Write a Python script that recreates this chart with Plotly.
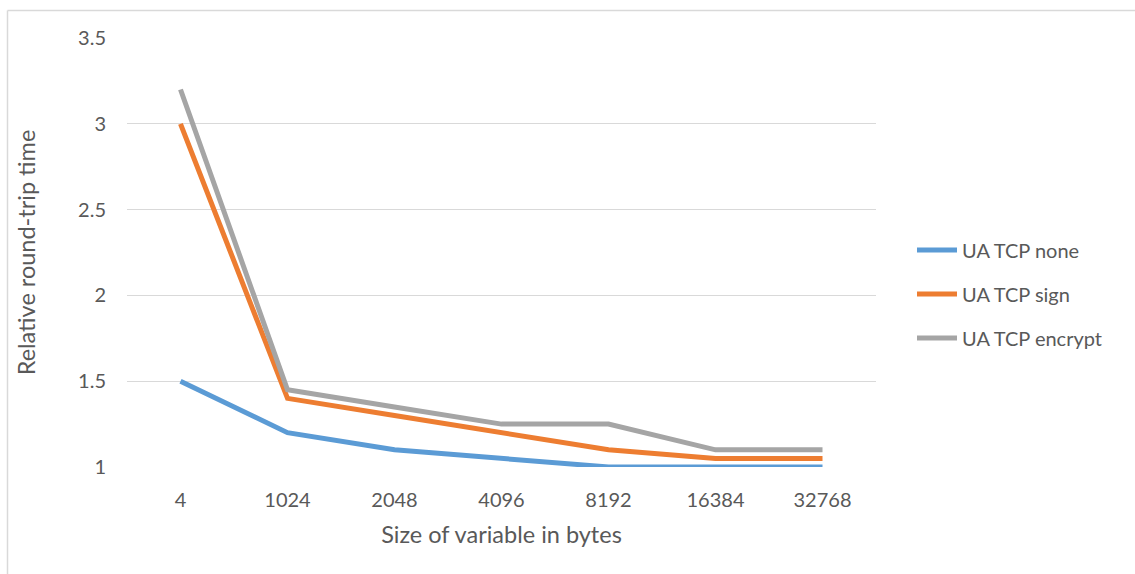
import plotly.graph_objects as go

# Round-trip time relative to the baseline, per variable size
sizes = ["4", "1024", "2048", "4096", "8192", "16384", "32768"]
ua_tcp_none = [1.5, 1.2, 1.1, 1.05, 1.0, 1.0, 1.0]
ua_tcp_sign = [3.0, 1.4, 1.3, 1.2, 1.1, 1.05, 1.05]
ua_tcp_encrypt = [3.2, 1.45, 1.35, 1.25, 1.25, 1.1, 1.1]

series = [
    ("UA TCP none", ua_tcp_none, "#5B9BD5"),
    ("UA TCP sign", ua_tcp_sign, "#ED7D31"),
    ("UA TCP encrypt", ua_tcp_encrypt, "#A5A5A5"),
]

W, H = 1135, 574
L, R, T, B = 127, 259, 38, 107
PW, PH = W - L - R, H - T - B

FONT = "Lato, 'Open Sans', sans-serif"
TXT = "#595959"

fig = go.Figure()
for name, vals, color in series:
    fig.add_trace(go.Scatter(
        x=sizes, y=vals, name=name, mode="lines", legendgroup=name,
        line=dict(color=color, width=5, shape="linear"),
    ))

def px_x(p):
    return (p - L) / PW

def px_y(p):
    return (H - B - p) / PH

# Thin frame around the chart area (top and left edges visible)
frame = dict(color="#D9D9D9", width=1.5)
fig.add_shape(type="line", xref="paper", yref="paper",
              x0=px_x(7.5), x1=px_x(W + 5), y0=px_y(10.5), y1=px_y(10.5), line=frame)
fig.add_shape(type="line", xref="paper", yref="paper",
              x0=px_x(7.5), x1=px_x(7.5), y0=px_y(10.5), y1=px_y(H + 5), line=frame)

fig.update_layout(
    width=W, height=H,
    margin=dict(l=L, r=R, t=T, b=B),
    paper_bgcolor="white", plot_bgcolor="white",
    font=dict(family=FONT, color=TXT, size=20),
    showlegend=True,
    legend=dict(
        x=px_x(912), xanchor="left", y=px_y(294), yanchor="middle",
        font=dict(size=20, color=TXT), tracegroupgap=15,
        itemwidth=40, bgcolor="rgba(0,0,0,0)",
    ),
    xaxis=dict(
        type="category", range=[-0.5, 6.5],
        showgrid=False, zeroline=False, showline=False,
        ticks="", ticklabelstandoff=19,
        tickfont=dict(size=20, color=TXT),
        title=dict(text="Size of variable in bytes", font=dict(size=23.5, color=TXT), standoff=16),
    ),
    yaxis=dict(
        range=[1, 3.5], dtick=0.5, tick0=1,
        showgrid=True, gridcolor="#D9D9D9", gridwidth=1.3,
        zeroline=False, showline=False, ticks="",
        ticklabelstandoff=20,
        tickfont=dict(size=20, color=TXT),
        title=dict(text="Relative round-trip time", font=dict(size=23.5, color=TXT), standoff=35),
    ),
)

fig.write_html("out.html")
